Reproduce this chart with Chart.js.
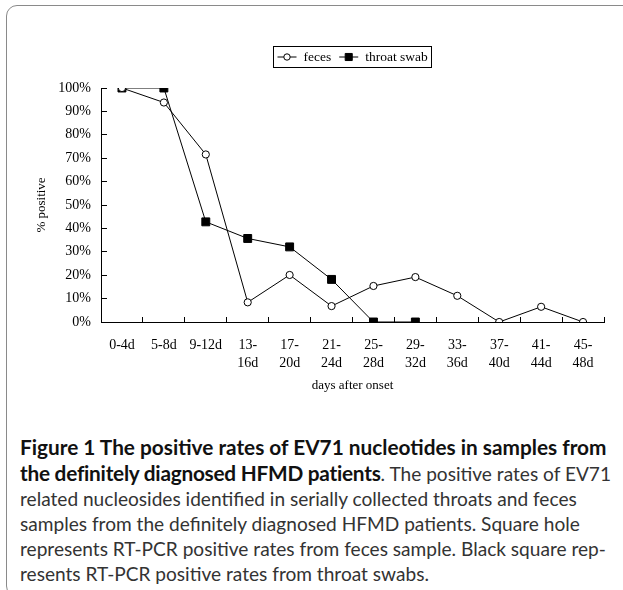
<!DOCTYPE html>
<html>
<head>
<meta charset="utf-8">
<script src="https://cdn.jsdelivr.net/npm/chart.js@4.4.1/dist/chart.umd.min.js"></script>
<style>
  html, body { margin: 0; padding: 0; background: #fff; }
  body { width: 623px; height: 590px; overflow: hidden; position: relative; }
  .frame {
    position: absolute; left: 6px; top: 5px; width: 660px; height: 590px;
    border: 1.5px solid #8a8a8a; border-radius: 11px;
  }
  #wrap { position: absolute; left: 0; top: 0; width: 623px; height: 400px; }
  .caption {
    position: absolute; left: 20px; top: 434px; white-space: nowrap;
    font-family: Lato, "Open Sans", sans-serif; font-size: 19.1px; line-height: 25px; color: #333;
  }
  .caption b { color: #111; font-size: 20.8px; }
  .caption .tight b { letter-spacing: -0.25px; }
</style>
</head>
<body>
<div class="frame"></div>
<div id="wrap"><canvas id="chart" width="623" height="400"></canvas></div>
<div class="caption">
  <b>Figure 1 The positive rates of EV71 nucleotides in samples from</b><br>
  <span class="tight"><b>the definitely diagnosed HFMD patients</b>. The positive rates of EV71</span><br>
  related nucleosides identified in serially collected throats and feces<br>
  samples from the definitely diagnosed HFMD patients. Square hole<br>
  represents RT-PCR positive rates from feces sample. Black square rep-<br>
  resents RT-PCR positive rates from throat swabs.
</div>
<script>
// data
const dayGroups = [['0-4d'], ['5-8d'], ['9-12d'], ['13-', '16d'], ['17-', '20d'], ['21-', '24d'],
    ['25-', '28d'], ['29-', '32d'], ['33-', '36d'], ['37-', '40d'], ['41-', '44d'], ['45-', '48d']];
const fecesRate = [100, 93.8, 71.6, 8.4, 20.1, 6.8, 15.4, 19.2, 11.2, 0, 6.5, 0];
const throatRate = [100, 100, 42.8, 35.7, 32.1, 18.2, 0, 0, null, null, null, null];
const yTicks = [0, 10, 20, 30, 40, 50, 60, 70, 80, 90, 100];

const serif = 'Liberation Serif, Times New Roman, serif';

// legend with a border box and line-through markers
const boxLegend = {
    id: 'boxLegend',
    afterDraw(chart) {
        const ctx = chart.ctx;
        const area = chart.chartArea;
        const items = chart.data.datasets.map(ds => ({ text: ds.label, ds: ds }));
        ctx.save();
        ctx.font = '13.5px ' + serif;
        const seg = 19, gap = 7, itemGap = 8, padX = 4;
        let total = padX * 2;
        items.forEach((it, i) => {
            it.w = seg + gap + ctx.measureText(it.text).width;
            total += it.w + (i ? itemGap : 0);
        });
        const top = 46, h = 21;
        let x = Math.round((area.left + area.right) / 2 - total / 2) + 0.5;
        ctx.strokeStyle = '#000';
        ctx.lineWidth = 1;
        ctx.strokeRect(x, top + 0.5, Math.round(total), h);
        const cy = top + h / 2 + 0.5;
        x += padX;
        items.forEach((it, i) => {
            if (i) x += itemGap;
            ctx.beginPath();
            ctx.moveTo(x, cy);
            ctx.lineTo(x + seg, cy);
            ctx.stroke();
            ctx.fillStyle = it.ds.pointBackgroundColor;
            Chart.helpers.drawPoint(ctx, {
                pointStyle: it.ds.pointStyle,
                radius: it.ds.pointStyle === 'rect' ? 5 : 3.2,
                borderWidth: 1
            }, x + seg / 2, cy);
            ctx.fillStyle = '#000';
            ctx.textBaseline = 'middle';
            ctx.fillText(it.text, x + seg + gap, cy);
            x += it.w;
        });
        ctx.restore();
    }
};

const ctx = document.getElementById('chart').getContext('2d');
const chart = new Chart(ctx, {
    type: 'line',
    data: {
        labels: dayGroups,
        datasets: [{
            label: 'feces',
            data: fecesRate,
            borderColor: '#000',
            borderWidth: 1,
            pointStyle: 'circle',
            pointRadius: 3.6,
            pointBackgroundColor: '#fff',
            pointBorderColor: '#000',
            pointBorderWidth: 1,
            tension: 0
        }, {
            label: 'throat swab',
            data: throatRate,
            borderColor: '#000',
            borderWidth: 1,
            pointStyle: 'rect',
            pointRadius: 5.6,
            pointBackgroundColor: '#000',
            pointBorderColor: '#000',
            pointBorderWidth: 1,
            tension: 0
        }]
    },
    options: {
        responsive: false,
        animation: false,
        layout: {
            padding: { top: 88, right: 19, left: 0, bottom: 0 }
        },
        plugins: {
            legend: { display: false },
            tooltip: { enabled: false }
        },
        scales: {
            x: {
                offset: true,
                grid: {
                    offset: true,
                    drawOnChartArea: false,
                    tickLength: -5,
                    color: '#000'
                },
                border: { color: '#000', width: 1 },
                ticks: {
                    color: '#000',
                    font: { family: serif, size: 14, lineHeight: 1.3 },
                    padding: 19,
                    maxRotation: 0,
                    autoSkip: false
                },
                title: {
                    display: true,
                    text: 'days after onset',
                    color: '#000',
                    font: { family: serif, size: 13 },
                    padding: { top: 0, bottom: 7 }
                },
                afterFit: scale => { scale.height = 78; }
            },
            y: {
                min: 0,
                max: 100,
                afterBuildTicks: scale => { scale.ticks = yTicks.map(v => ({ value: v })); },
                grid: {
                    drawOnChartArea: false,
                    tickLength: -6,
                    color: '#000'
                },
                border: { color: '#000', width: 1 },
                ticks: {
                    color: '#000',
                    font: { family: serif, size: 14 },
                    padding: 16,
                    callback: v => v + '%'
                },
                title: {
                    display: true,
                    text: '% positive',
                    color: '#000',
                    font: { family: serif, size: 13 },
                    padding: { top: 34, bottom: 0 }
                },
                afterFit: scale => { scale.width = 101; }
            }
        }
    },
    plugins: [boxLegend]
});
</script>
</body>
</html>
